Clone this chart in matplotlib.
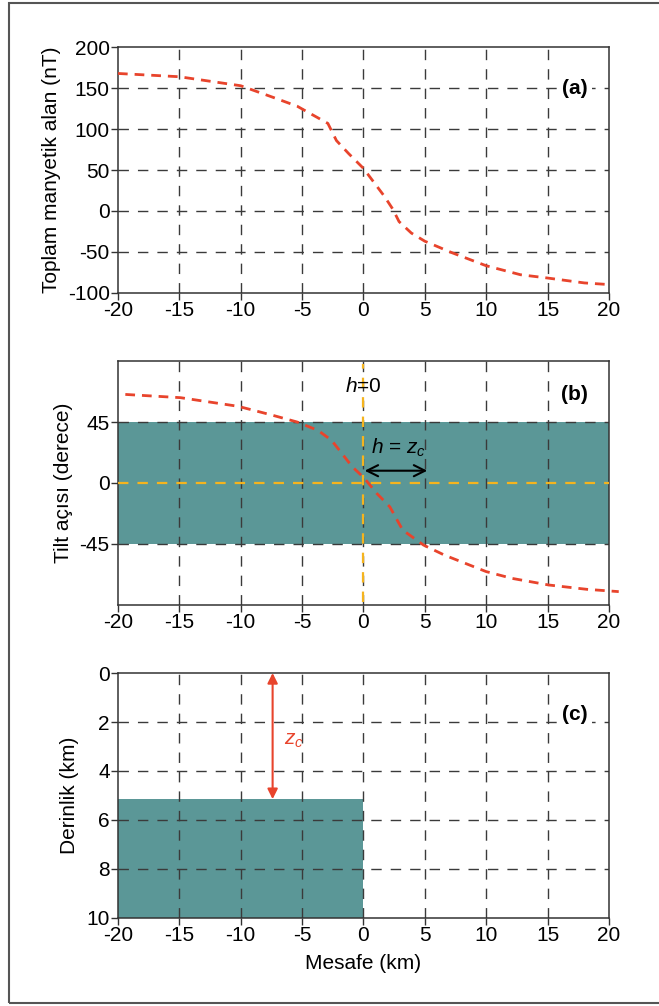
import matplotlib
matplotlib.use('Agg')
import matplotlib.pyplot as plt
from matplotlib.patches import Rectangle

plt.rcParams['font.family'] = ['Liberation Sans Narrow', 'Liberation Sans', 'DejaVu Sans']
plt.rcParams['mathtext.fontset'] = 'custom'
plt.rcParams['mathtext.it'] = 'Liberation Sans:italic'
plt.rcParams['mathtext.rm'] = 'Liberation Sans'
plt.rcParams['lines.scale_dashes'] = False

# veri: (a) toplam manyetik alan
a_x = [-20, -15, -10, -7.4, -5.4, -2.9, -2.2, -1.2, 0, 1.0, 1.7, 2.4, 2.9, 3.9, 5, 7.2, 10, 12.8, 15, 18, 20]
a_y = [168, 164, 153, 139, 128, 107, 86, 70, 52, 32, 18, 2, -13, -27, -37, -51, -67, -78, -82, -88, -90]

# (b) tilt açısı
b_x = [-19.4, -14.9, -10.2, -7.4, -5.4, -3.7, -2.6, -1.95, -0.9, 0.03, 1.1, 2.15, 3.2, 4.9, 6.6, 10, 12.1, 15.1, 18.2, 20.8]
b_y = [65.4, 63, 56.6, 50, 45, 38.8, 31.5, 24, 11.8, 3.9, -7.9, -17.7, -34.9, -46, -53.4, -65.6, -70.6, -75.5, -78.7, -80.4]

# (c) model
zc = 5.15
arrow_x = -7.4
x_ticks = [-20, -15, -10, -5, 0, 5, 10, 15, 20]
x_labels = ['-20', '-15', '-10', '-5', '0', '5', '10', '15', '20']

RED = '#e8442c'
TEAL = '#5b9797'
YEL = '#f5b41e'
GRID = '#3a3a3a'
FS = 15
WBOX = dict(facecolor='white', edgecolor='none', pad=3)

fig = plt.figure(figsize=(6.59, 10.06), dpi=100)
fig.patches.append(Rectangle((9 / 659, 3 / 1006), 1.0, 1000 / 1006, transform=fig.transFigure,
                             fill=False, edgecolor='#555555', linewidth=1.5))

def style(ax, yt, yl):
    ax.set_xlim(-20, 20)
    ax.set_xticks(x_ticks)
    ax.set_xticklabels(x_labels)
    ax.set_yticks(yt)
    ax.set_yticklabels(yl)
    ax.tick_params(direction='out', length=5, width=1, labelsize=FS, pad=1, color='#333333',
                   labelcolor='black')
    for s in ax.spines.values():
        s.set_linewidth(1.1)
        s.set_color('#333333')
    for xv in x_ticks[1:-1]:
        ax.axvline(xv, color=GRID, lw=1, dashes=(7.5, 6.5), zorder=2)

# panel (a)
ax1 = fig.add_axes([0.179, 0.709, 0.745, 0.244])
ax1.set_ylim(-100, 200)
style(ax1, [-100, -50, 0, 50, 100, 150, 200], ['-100', '-50', '0', '50', '100', '150', '200'])
for yv in [-50, 0, 50, 100, 150]:
    ax1.axhline(yv, color=GRID, lw=1, dashes=(7.5, 6.5), zorder=2)
ax1.plot(a_x, a_y, color=RED, lw=2, dashes=(7, 5), zorder=3)
ax1.set_ylabel('Toplam manyetik alan (nT)', fontsize=FS, labelpad=5)
ax1.text(17.2, 150, '(a)', fontsize=FS, fontweight='bold', ha='center', va='center',
         bbox=WBOX, zorder=5)

# panel (b)
ax2 = fig.add_axes([0.179, 0.399, 0.745, 0.242])
ax2.set_ylim(-90, 90)
ax2.axhspan(-45, 45, color=TEAL, lw=0, zorder=1)
style(ax2, [-45, 0, 45], ['-45', '0', '45'])
for yv in [-45, 45]:
    ax2.axhline(yv, color=GRID, lw=1, dashes=(7.5, 6.5), zorder=2)
ax2.axhline(0, color=YEL, lw=1.6, dashes=(7.5, 6.5), zorder=3)
ax2.plot([0, 0], [-88, 88], color=YEL, lw=1.6, dashes=(7.5, 6.5), zorder=3)
ax2.plot(b_x, b_y, color=RED, lw=2, dashes=(7, 5), zorder=4, clip_on=False)
ax2.annotate('', xy=(0.1, 9), xytext=(5.2, 9),
             arrowprops=dict(arrowstyle='<->', color='black', lw=1.5, mutation_scale=20,
                             shrinkA=0, shrinkB=0), zorder=5)
ax2.text(0, 71, '$h$=0', fontsize=FS, ha='center', va='center', zorder=5)
ax2.text(0.6, 18, '$h$ = $z_c$', fontsize=FS, ha='left', va='bottom', zorder=5)
ax2.set_ylabel('Tilt açısı (derece)', fontsize=FS, labelpad=5)
ax2.text(17.2, 65, '(b)', fontsize=FS, fontweight='bold', ha='center', va='center')

# panel (c)
ax3 = fig.add_axes([0.179, 0.0875, 0.745, 0.2435])
ax3.set_ylim(10, 0)
ax3.add_patch(Rectangle((-20, zc), 20, 10 - zc, color=TEAL, lw=0, zorder=1))
style(ax3, [0, 2, 4, 6, 8, 10], ['0', '2', '4', '6', '8', '10'])
for yv in [2, 4, 6, 8]:
    ax3.axhline(yv, color=GRID, lw=1, dashes=(7.5, 6.5), zorder=2)
ax3.annotate('', xy=(arrow_x, 0), xytext=(arrow_x, zc),
             arrowprops=dict(arrowstyle='<|-|>', color=RED, lw=1.5, mutation_scale=15,
                             shrinkA=0, shrinkB=0), zorder=5)
ax3.text(-6.5, 2.75, '$z_c$', fontsize=FS, color=RED, ha='left', va='center')
ax3.set_ylabel('Derinlik (km)', fontsize=FS, labelpad=5)
ax3.set_xlabel('Mesafe (km)', fontsize=FS, labelpad=6)
ax3.text(17.2, 1.7, '(c)', fontsize=FS, fontweight='bold', ha='center', va='center',
         bbox=WBOX, zorder=5)

fig.savefig('out.png', dpi=100)
